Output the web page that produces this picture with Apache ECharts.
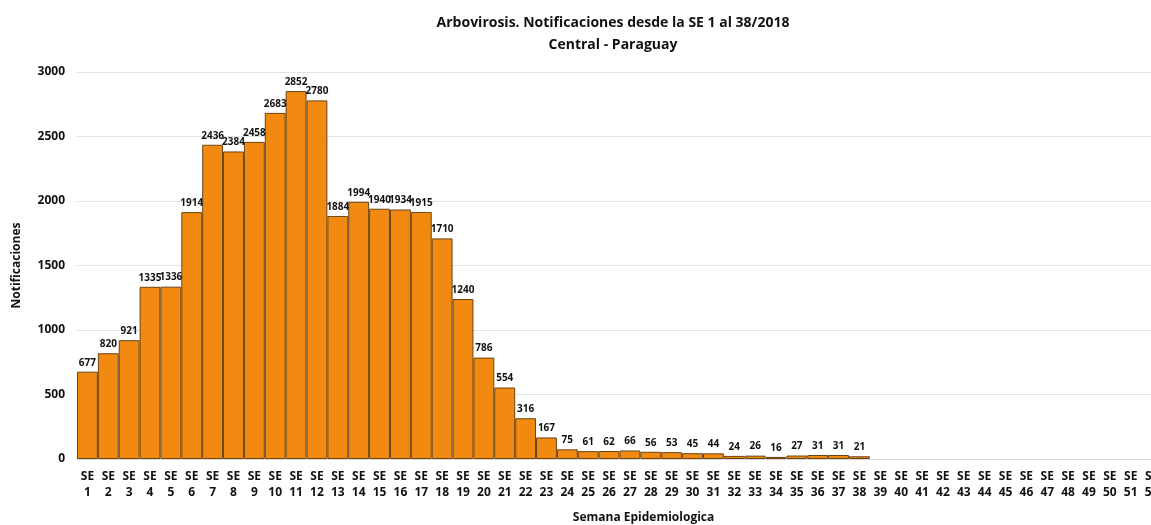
<!DOCTYPE html>
<html>
<head>
<meta charset="utf-8">
<script src="https://cdn.jsdelivr.net/npm/echarts@6/dist/echarts.min.js"></script>
<style>
  html, body { margin: 0; padding: 0; background: #fff; }
  #chart { width: 1151px; height: 525px; }
</style>
</head>
<body>
<div id="chart"></div>
<script>
// semanas epidemiologicas 1..52
var weeks = [];
for (var i = 1; i <= 52; i++) weeks.push('SE\n' + i);

// notificaciones por semana (SE 1 - SE 38)
var notificaciones = [677, 820, 921, 1335, 1336, 1914, 2436, 2384, 2458, 2683,
  2852, 2780, 1884, 1994, 1940, 1934, 1915, 1710, 1240, 786,
  554, 316, 167, 75, 61, 62, 66, 56, 53, 45,
  44, 24, 26, 16, 27, 31, 31, 21];

var yTicks = [0, 500, 1000, 1500, 2000, 2500, 3000];

var chart = echarts.init(document.getElementById('chart'));

var option = {
  backgroundColor: '#fff',
  textStyle: { fontFamily: 'Open Sans' },
  title: {
    text: 'Arbovirosis. Notificaciones desde la SE 1 al 38/2018\nCentral - Paraguay',
    left: 608,
    top: 7,
    textAlign: 'center',
    textStyle: { fontSize: 14, fontWeight: 'bold', color: '#111', lineHeight: 22 }
  },
  grid: { left: 77, top: 72, width: 1085, height: 387, outerBoundsMode: 'none', containLabel: false },
  xAxis: {
    type: 'category',
    data: weeks,
    name: 'Semana Epidemiologica',
    nameLocation: 'middle',
    nameGap: 53,
    nameTextStyle: { fontSize: 12, fontWeight: 'bold', color: '#111', padding: [0, 0, 0, 48] },
    axisLine: { lineStyle: { color: '#d9d9d9' } },
    axisTick: { show: false },
    axisLabel: { interval: 0, fontSize: 12, fontWeight: 'bold', color: '#111', lineHeight: 16, margin: 10 }
  },
  yAxis: {
    type: 'value',
    min: yTicks[0],
    max: yTicks[yTicks.length - 1],
    interval: 500,
    name: 'Notificaciones',
    nameLocation: 'middle',
    nameGap: 54,
    nameTextStyle: { fontSize: 12, fontWeight: 'bold', color: '#111' },
    axisLine: { show: false },
    axisTick: { show: false },
    axisLabel: { fontSize: 12, fontWeight: 'bold', color: '#111', margin: 12, formatter: function (v) { return String(v); } },
    splitLine: { lineStyle: { color: '#e3e3e3' } }
  },
  series: [{
    type: 'bar',
    data: notificaciones,
    barCategoryGap: '0%',
    itemStyle: { color: '#F28A12', borderColor: '#6b4412', borderWidth: 1 },
    label: {
      show: true,
      position: 'top',
      distance: 4,
      fontSize: 10,
      fontWeight: 'bold',
      color: '#111'
    }
  }]
};

chart.setOption(option);
</script>
</body>
</html>
